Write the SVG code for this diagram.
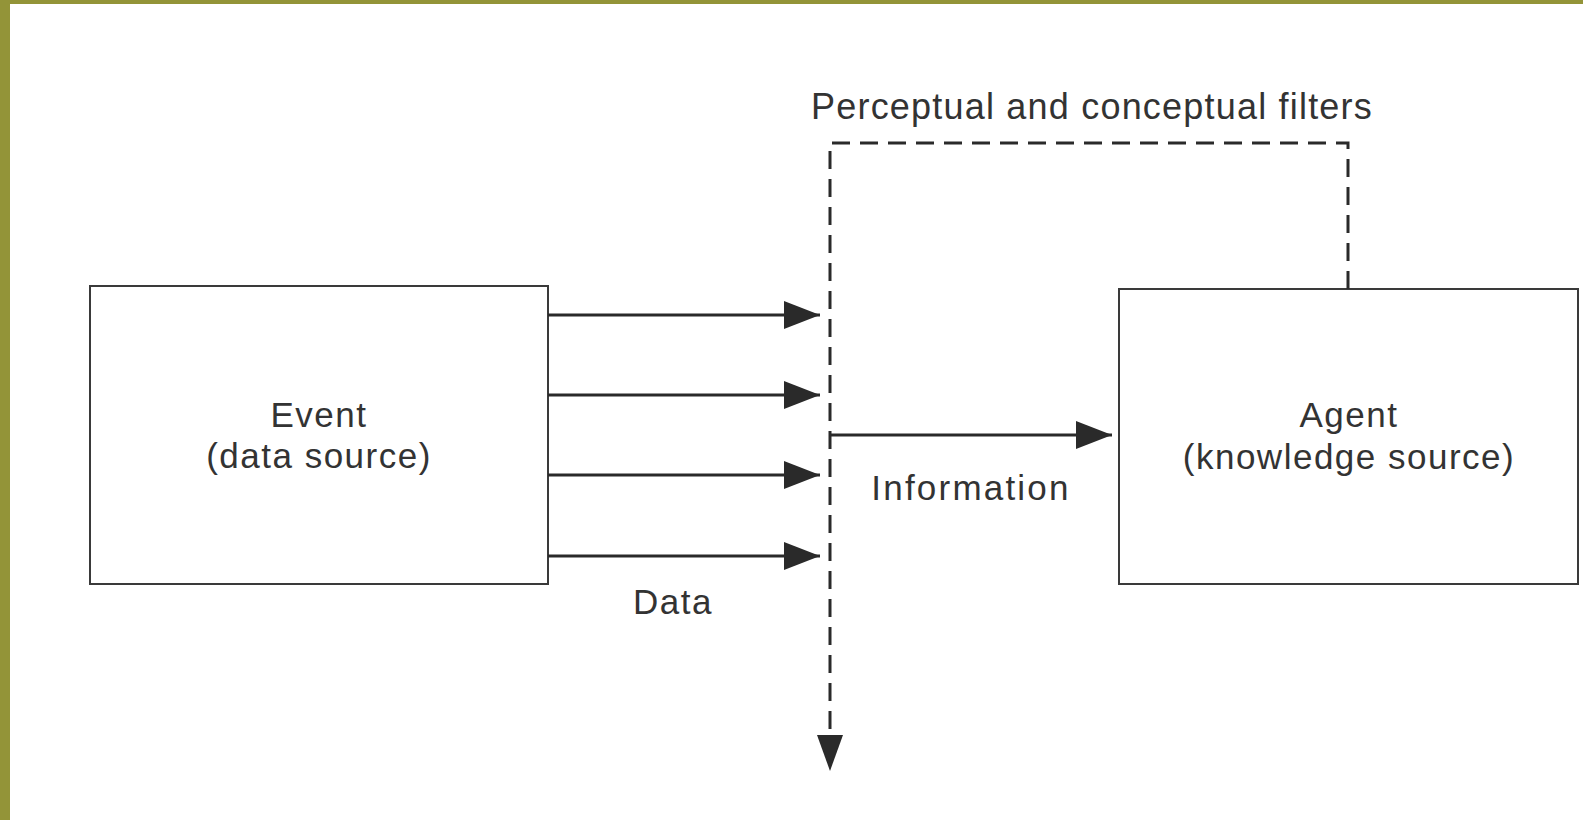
<svg xmlns="http://www.w3.org/2000/svg" width="1583" height="820" viewBox="0 0 1583 820">
<style>
.box{fill:#fff;stroke:#3a3a3a;stroke-width:2}
.lbl{font-family:"Liberation Sans",Arial,sans-serif;font-size:35px;fill:#333;text-anchor:middle;letter-spacing:1.5px}
.arr{stroke:#2a2a2a;stroke-width:3;fill:none}
.dash{stroke:#2a2a2a;stroke-width:3;fill:none;stroke-dasharray:18 10}
</style>
<defs>
<marker id="ah" viewBox="0 0 36 28" refX="36" refY="14" markerWidth="36" markerHeight="28" markerUnits="userSpaceOnUse" orient="auto">
<path d="M0,0 L36,14 L0,28 Z" fill="#2a2a2a"/>
</marker>
</defs>
<rect x="0" y="0" width="1583" height="820" fill="#fff"/>
<rect x="0" y="0" width="1583" height="4" fill="#939438"/>
<rect x="0" y="0" width="10" height="820" fill="#939438"/>
<g id="event">
<rect class="box" x="90" y="286" width="458" height="298"/>
<text class="lbl" x="319" y="427">Event</text>
<text class="lbl" x="319" y="468">(data source)</text>
</g>
<g id="agent">
<rect class="box" x="1119" y="289" width="459" height="295"/>
<text class="lbl" x="1349" y="427">Agent</text>
<text class="lbl" x="1349" y="469">(knowledge source)</text>
</g>
<g id="filter">
<path class="dash" d="M1348,289 L1348,143 L830,143 L830,735"/>
<path d="M817,735 L843,735 L830,771 Z" fill="#2a2a2a"/>
<text class="lbl" x="1092" y="119" style="font-size:36px;letter-spacing:1.2px">Perceptual and conceptual filters</text>
</g>
<g id="connectors">
<line class="arr" x1="548" y1="315" x2="820" y2="315" marker-end="url(#ah)"/>
<line class="arr" x1="548" y1="395" x2="820" y2="395" marker-end="url(#ah)"/>
<line class="arr" x1="548" y1="475" x2="820" y2="475" marker-end="url(#ah)"/>
<line class="arr" x1="548" y1="556" x2="820" y2="556" marker-end="url(#ah)"/>
<line class="arr" x1="830" y1="435" x2="1112" y2="435" marker-end="url(#ah)"/>
<text class="lbl" x="673" y="614">Data</text>
<text class="lbl" x="971" y="500" style="letter-spacing:2.2px">Information</text>
</g>
</svg>
